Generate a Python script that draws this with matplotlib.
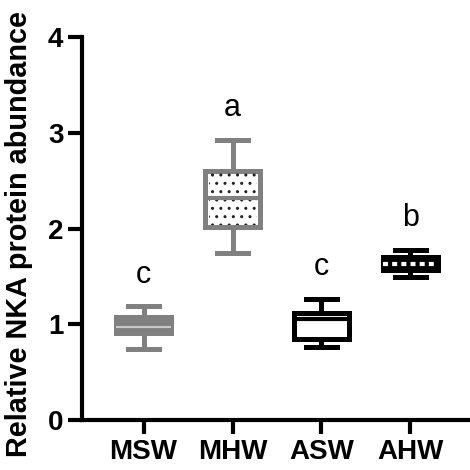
import matplotlib
matplotlib.use("Agg")
import matplotlib.pyplot as plt
from matplotlib.patches import Rectangle

plt.rcParams['font.family'] = ['Liberation Sans', 'DejaVu Sans']

groups = ['MSW', 'MHW', 'ASW', 'AHW']
whislo = [0.74, 1.75, 0.76, 1.49]
q1 = [0.91, 2.02, 0.85, 1.57]
med = [0.97, 2.32, 1.06, 1.63]
q3 = [1.08, 2.60, 1.12, 1.70]
whishi = [1.19, 2.93, 1.27, 1.78]
letters = ['c', 'a', 'c', 'b']

grey = '#808080'
edge = [grey, grey, 'black', 'black']
face = [grey, 'white', 'white', 'black']
medc = ['#c8c8c8', grey, 'black', 'white']
meds = ['-', '-', '-', (0, (1.2, 1.0))]

stats = []
for i, g in enumerate(groups):
    stats.append(dict(label=g, whislo=whislo[i], q1=q1[i], med=med[i],
                      q3=q3[i], whishi=whishi[i], fliers=[]))

fig = plt.figure(figsize=(4.7, 4.7), dpi=100)
ax = fig.add_axes([0.175, 0.106, 0.825, 0.815])

pos = list(range(len(groups)))
bp = ax.bxp(stats, positions=pos, widths=0.62, patch_artist=True,
            showfliers=False)
for i in pos:
    bp['boxes'][i].set(facecolor=face[i], edgecolor=edge[i], linewidth=3.6, zorder=2)
    bp['medians'][i].set(color=medc[i], linewidth=3.0 if i != 0 else 1.5,
                         linestyle=meds[i], zorder=3)
    for w in bp['whiskers'][2*i:2*i+2]:
        w.set(color=edge[i], linewidth=3.6)
    for c in bp['caps'][2*i:2*i+2]:
        c.set(color=edge[i], linewidth=3.6, xdata=[i - 0.17, i + 0.17])

# dotted fill of MHW box
ax.add_patch(Rectangle((1 - 0.27, q1[1] + 0.02), 0.54, q3[1] - q1[1] - 0.04,
                       fill=False, hatch='..', edgecolor='#222222', linewidth=0,
                       zorder=2.5))

for i in pos:
    ax.text(i, whishi[i] + 0.17, letters[i], ha='center', va='bottom', fontsize=22)

ax.set_xlim(-0.69, 3.67)
ax.set_ylim(0, 4)
ax.set_yticks([0, 1, 2, 3, 4])
ax.set_xticks(pos)
ax.set_xticklabels(groups)
ax.set_ylabel('Relative NKA protein abundance', fontsize=20.8, fontweight='bold')
ax.yaxis.set_label_coords(-0.126, 0.486)
for s in ['top', 'right']:
    ax.spines[s].set_visible(False)
for s in ['left', 'bottom']:
    ax.spines[s].set_linewidth(3)
ax.tick_params(width=3, length=10, labelsize=20)
for t in ax.get_xticklabels() + ax.get_yticklabels():
    t.set_fontweight('bold')

fig.savefig('out.png', dpi=100)
